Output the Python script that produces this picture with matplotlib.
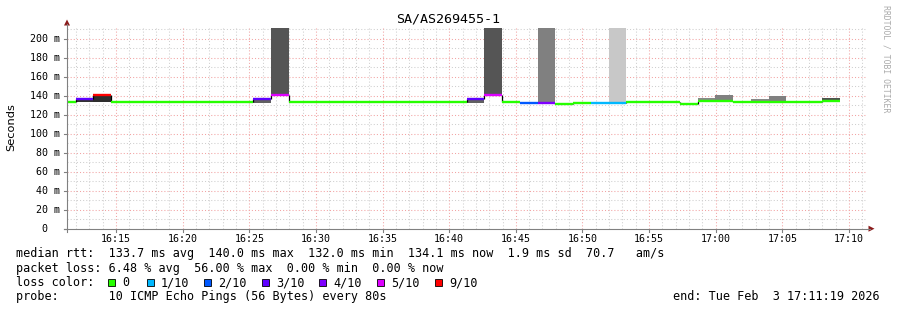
import matplotlib
matplotlib.use("Agg")
import matplotlib.pyplot as plt
from matplotlib.patches import Rectangle, Polygon
from matplotlib.transforms import blended_transform_factory

# ---------------- data ----------------
title = "SA/AS269455-1"
window_start = 11 + 19 / 60.0          # minutes after 16:00 -> 16:11:19
window_end = window_start + 60.0       # 17:11:19
first_sample = 10.636                  # start of first 80 s step (minutes after 16:00)
step_min = 80 / 60.0

median_ms = [133.2, 136.8, 140.5,
             133.2, 133.2, 133.2, 133.2, 133.2, 133.2, 133.2, 133.2,
             136.8, 140.6,
             133.2, 133.2, 133.2, 133.2, 133.2, 133.2, 133.2, 133.2, 133.2, 133.2,
             136.8, 140.6,
             133.2, 132.3, 132.5, 131.6, 132.6, 132.6, 132.6,
             133.2, 133.2, 133.2,
             131.6, 134.3, 134.8, 133.2, 133.2, 133.2, 133.2, 133.2, 134.3]
loss_tenths = [0, 3, 9,
               0, 0, 0, 0, 0, 0, 0, 0,
               3, 5,
               0, 0, 0, 0, 0, 0, 0, 0, 0, 0,
               3, 5,
               0, 2, 4, 0, 0, 1, 1,
               0, 0, 0,
               0, 0, 0, 0, 0, 0, 0, 0, 0]
# smoke bands per step: (low ms, high ms, grey level); None = no smoke
smoke_lo = [None, 133.0, 133.0] + [None] * 8 + [132.5, 141.0] + [None] * 10 + \
           [132.5, 141.0] + [None, None, 133.0, None, None, None, 133.0] + [None] * 3 + \
           [None, 134.0, 134.0, None, 133.0, 133.0, None, None, 133.0]
smoke_hi = [None, 137.0, 140.5] + [None] * 8 + [136.5, 215.0] + [None] * 10 + \
           [136.5, 215.0] + [None, None, 215.0, None, None, None, 215.0] + [None] * 3 + \
           [None, 138.0, 140.5, None, 136.5, 139.5, None, None, 137.5]
smoke_grey = [None, 0x33, 0x2d] + [None] * 8 + [0x60, 0x55] + [None] * 10 + \
             [0x60, 0x55] + [None, None, 0x80, None, None, None, 0xc8] + [None] * 3 + \
             [None, 0x88, 0x80, None, 0x88, 0x80, None, None, 0x50]

loss_colors = {0: "#26ff00", 1: "#00b8ff", 2: "#0059ff", 3: "#5e00ff",
               4: "#7e00ff", 5: "#dd00ff", 9: "#ff0000"}
legend_keys = [0, 1, 2, 3, 4, 5, 9]
legend_labels = ["0", "1/10", "2/10", "3/10", "4/10", "5/10", "9/10"]

xtick_minutes = list(range(15, 71, 5))
xtick_labels = ["16:15", "16:20", "16:25", "16:30", "16:35", "16:40",
                "16:45", "16:50", "16:55", "17:00", "17:05", "17:10"]
ytick_values = list(range(0, 201, 20))
ytick_labels = ["0  "] + ["%d m" % v for v in range(20, 201, 20)]

line_rtt = "median rtt:  133.7 ms avg  140.0 ms max  132.0 ms min  134.1 ms now  1.9 ms sd  70.7   am/s"
line_loss = "packet loss: 6.48 % avg  56.00 % max  0.00 % min  0.00 % now"
line_color = "loss color:"
line_probe = "probe:       10 ICMP Echo Pings (56 Bytes) every 80s"
line_end = "end: Tue Feb  3 17:11:19 2026"

# ---------------- figure ----------------
W, H = 897, 310
fig = plt.figure(figsize=(W / 100, H / 100), dpi=100)
fig.patch.set_facecolor("white")
PL, PR, PB, PT = 67, 866.5, 228.7, 28
ax = fig.add_axes([PL / W, 1 - PB / H, (PR - PL) / W, (PB - PT) / H])
ax.set_xlim(window_start, window_end)
ax.set_ylim(0, 211.3)
ax.axis("off")

ov = fig.add_axes([0, 0, 1, 1], zorder=5)
ov.set_xlim(0, W)
ov.set_ylim(H, 0)
ov.axis("off")
ov.patch.set_alpha(0)

mono = "DejaVu Sans Mono"
minor_c = "#cfcfcf"
major_c = "#f2a3a3"
dash = (0, (1, 2))

# grid
import math
m = math.ceil(window_start)
while m <= window_end:
    if m % 5 != 0:
        ax.axvline(m, color=minor_c, lw=0.75, ls=dash, zorder=0)
    m += 1
for v in range(10, 211, 10):
    if v % 20 != 0:
        ax.axhline(v, color=minor_c, lw=0.75, ls=dash, zorder=0)
for xm in xtick_minutes:
    ax.axvline(xm, color=major_c, lw=0.75, ls=dash, zorder=0.5)
for v in ytick_values[1:]:
    ax.axhline(v, color=major_c, lw=0.75, ls=dash, zorder=0.5)

# smoke
n = len(median_ms)
starts = [first_sample + k * step_min for k in range(n)]
for k in range(n):
    if smoke_lo[k] is not None:
        g = smoke_grey[k]
        col = "#%02x%02x%02x" % (g, g, g)
        ax.add_patch(Rectangle((starts[k], smoke_lo[k]), step_min,
                               smoke_hi[k] - smoke_lo[k], facecolor=col,
                               edgecolor="none", zorder=2))

# median connectors and lines
for k in range(1, n):
    ax.vlines(starts[k], min(median_ms[k - 1], median_ms[k]),
              max(median_ms[k - 1], median_ms[k]), color="black", lw=0.9, zorder=3)
for k in range(n):
    ax.hlines(median_ms[k], starts[k], starts[k] + step_min,
              color=loss_colors[loss_tenths[k]], lw=1.7, zorder=4)

# axes lines + arrows
axis_c = "#808080"
ov.plot([PL, PL], [PB + 3, 24], color=axis_c, lw=0.8)
ov.plot([PL - 3, 870], [PB, PB], color=axis_c, lw=0.8)
ov.add_patch(Polygon([(PL - 3, 25.5), (PL + 3, 25.5), (PL, 19.5)], closed=True,
                     facecolor="#8b1a1a", edgecolor="none"))
ov.add_patch(Polygon([(868.5, PB - 3), (868.5, PB + 3), (874.5, PB)], closed=True,
                     facecolor="#8b1a1a", edgecolor="none"))

# tick labels
ty = blended_transform_factory(ov.transData, ax.transData)
for v, lab in zip(ytick_values, ytick_labels):
    ov.text(60, v, lab, transform=ty, ha="right", va="center",
            fontsize=7.2, family=mono)
    ov.plot([PL - 3, PL], [v, v], transform=ty, color=axis_c, lw=0.8)
tx = blended_transform_factory(ax.transData, ov.transData)
for xm, lab in zip(xtick_minutes, xtick_labels):
    ov.text(xm, 238.5, lab, transform=tx, ha="center", va="center",
            fontsize=7.2, family=mono)
    ov.plot([xm, xm], [PB, PB + 3], transform=tx, color=axis_c, lw=0.8)

# titles
ov.text(448, 19, title, ha="center", va="center", fontsize=9.6, family=mono)
ov.text(11, 127, "Seconds", ha="center", va="center", rotation=90,
        fontsize=8.2, family="DejaVu Sans")
ov.text(886, 59, "RRDTOOL / TOBI OETIKER", ha="center", va="center", rotation=270,
        fontsize=5.9, family=mono, color="#aaaaaa")

# legend
fs = 8.5
ov.text(16, 254, line_rtt, ha="left", va="center", fontsize=fs, family=mono)
ov.text(16, 268.3, line_loss, ha="left", va="center", fontsize=fs, family=mono)
ov.text(16, 282.6, line_color, ha="left", va="center", fontsize=fs, family=mono)
ov.text(16, 296.7, line_probe, ha="left", va="center", fontsize=fs, family=mono)
ov.text(880, 296.7, line_end, ha="right", va="center", fontsize=fs, family=mono)
box_x = [108, 147, 204, 262, 319, 377, 435]
for bx, key, lab in zip(box_x, legend_keys, legend_labels):
    ov.add_patch(Rectangle((bx, 279), 7, 7, facecolor=loss_colors[key],
                           edgecolor="#000000", lw=0.6))
    ov.text(bx + 14, 282.6, lab, ha="left", va="center", fontsize=fs, family=mono)

fig.savefig("out.png", dpi=100, facecolor="white")
